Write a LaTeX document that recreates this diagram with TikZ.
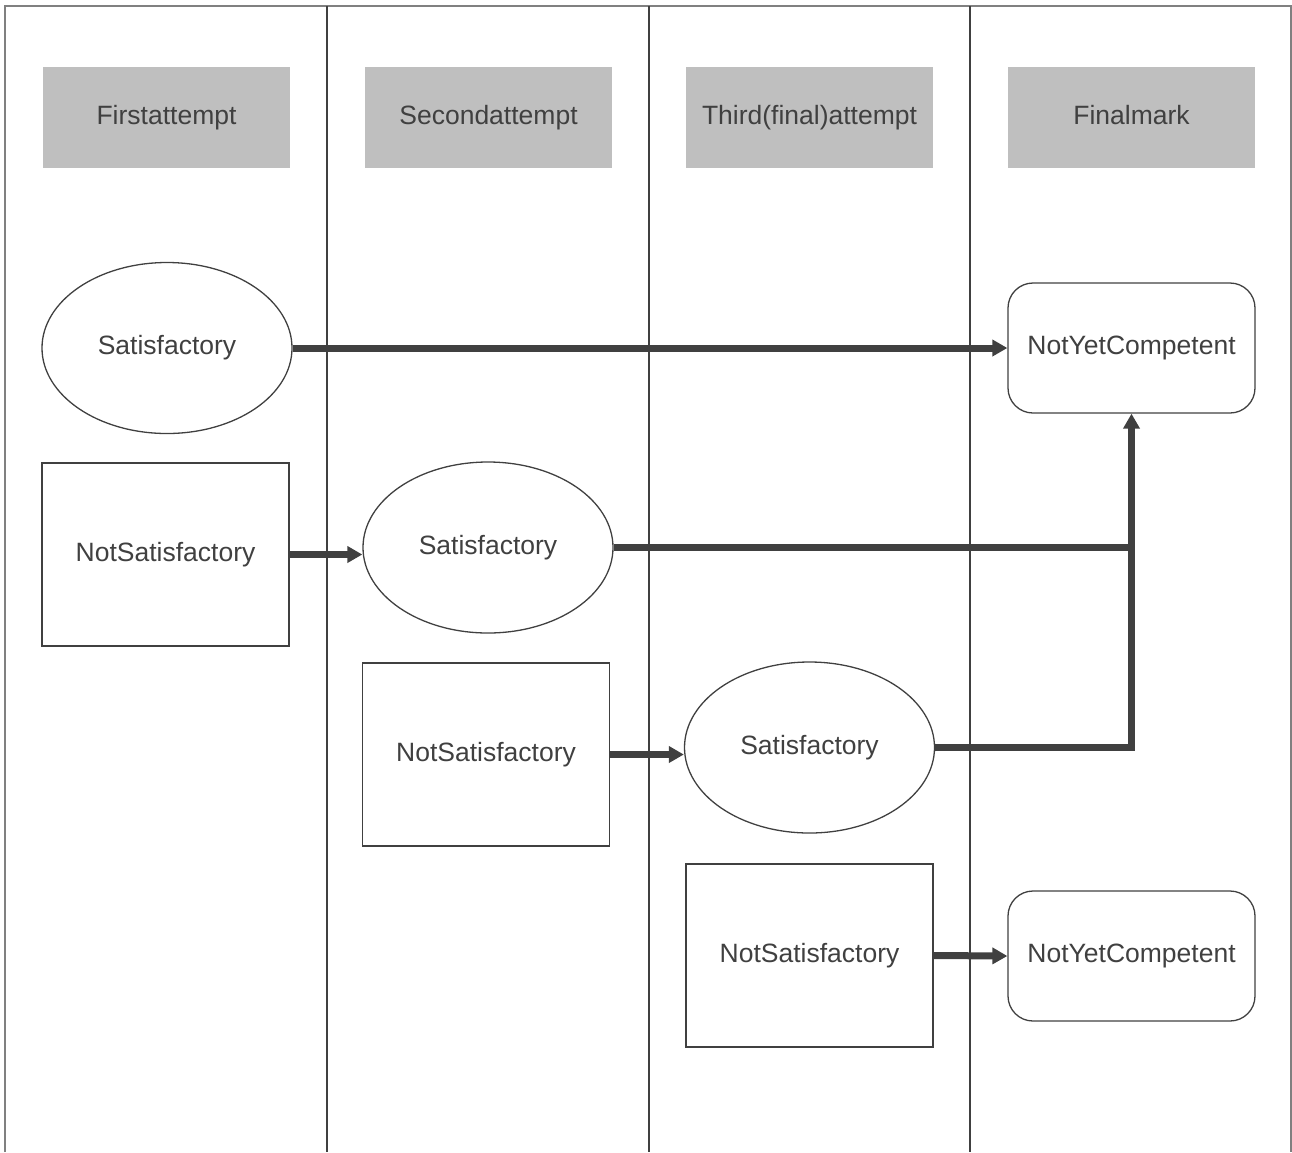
\documentclass[tikz,border=0pt]{standalone}
\usepackage{fontspec}
\setmainfont{Liberation Sans}
\usetikzlibrary{arrows.meta,shapes.geometric}
\definecolor{ink}{HTML}{404040}
\definecolor{head}{HTML}{BFBFBF}
\begin{document}
\begin{tikzpicture}[x=1pt,y=-1pt,>={Triangle[length=15pt,width=16pt]},
  every node/.style={text=ink,font=\fontsize{26.5}{32}\selectfont,inner sep=0pt,text height=19pt,text depth=5.5pt},
  headbox/.style={fill=head,minimum width=247pt,minimum height=101pt},
  sat/.style={ellipse,draw=ink,line width=1.3pt,minimum width=250pt,minimum height=171pt},
  notsat/.style={rectangle,draw=ink,line width=1.3pt,minimum width=247pt,minimum height=183pt},
  nyc/.style={rectangle,rounded corners=25pt,draw=ink,line width=1.3pt,minimum width=247pt,minimum height=130pt},
  conn/.style={draw=ink,line width=7pt}]
\useasboundingbox (0,0) rectangle (1292,1152);
% lanes
\draw[gray,line width=2pt] (5,1152) |- (1291,6) -- (1291,1152);
\foreach \x in {327,649,970} \draw[ink,line width=1.5pt] (\x,6) -- (\x,1152);
% headers
\node[headbox] (h1) at (166.5,117.5) {Firstattempt};
\node[headbox] (h2) at (488.5,117.5) {Secondattempt};
\node[headbox] (h3) at (809.5,117.5) {Third(final)attempt};
\node[headbox] (h4) at (1131.5,117.5) {Finalmark};
% attempts
\node[sat] (sat1) at (167,348) {Satisfactory};
\node[notsat] (ns1) at (165.5,554.5) {NotSatisfactory};
\node[sat] (sat2) at (488,547.5) {Satisfactory};
\node[notsat] (ns2) at (486,754.5) {NotSatisfactory};
\node[sat] (sat3) at (809.5,747.5) {Satisfactory};
\node[notsat] (ns3) at (809.5,955.5) {NotSatisfactory};
\node[nyc] (nyc1) at (1131.5,348) {NotYetCompetent};
\node[nyc] (nyc2) at (1131.5,956) {NotYetCompetent};
% connectors
\draw[conn,->] (sat1.east) -- (nyc1.west);
\draw[conn,->] (ns1.east) -- (ns1.east -| sat2.west);
\draw[conn,->] (ns2.east) -- (ns2.east -| sat3.west);
\draw[conn,->] (ns3.east) -- (nyc2.west);
\draw[conn] (sat2.east) -- (sat2.east -| nyc1.south);
\draw[conn,->] (sat3.east) -| (nyc1.south);
\end{tikzpicture}
\end{document}
